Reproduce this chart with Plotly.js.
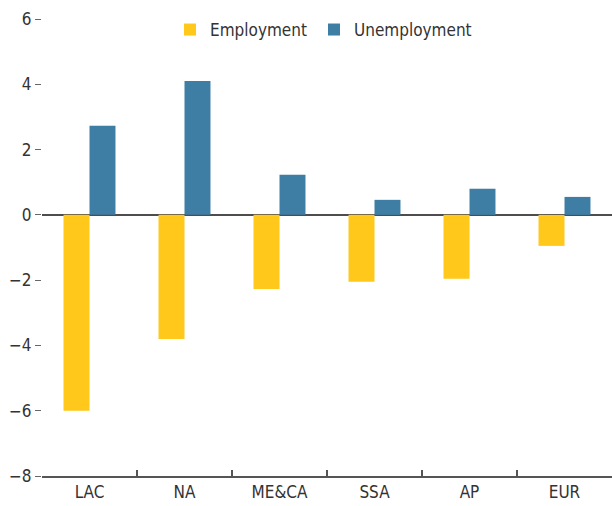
<!DOCTYPE html>
<html>
<head>
<meta charset="utf-8">
<script src="https://cdn.plot.ly/plotly-3.0.1.min.js"></script>
<style>html,body{margin:0;padding:0;background:#fff;}#chart{width:612px;height:506px;}</style>
</head>
<body>
<div id="chart"></div>
<script>
const categories = ["LAC", "NA", "ME&CA", "SSA", "AP", "EUR"];
const employment = [-6.0, -3.8, -2.27, -2.05, -1.96, -0.95];
const unemployment = [2.73, 4.1, 1.23, 0.46, 0.8, 0.55];
const yTickVals = [-8, -6, -4, -2, 0, 2, 4, 6];

const FONT = '"DejaVu Sans Condensed", "Liberation Sans", sans-serif';

const traces = [
  {type: 'bar', name: 'Employment', x: categories, y: employment,
   marker: {color: '#FFC81A'}, legend: 'legend'},
  {type: 'bar', name: 'Unemployment', x: categories, y: unemployment,
   marker: {color: '#3E7EA5'}, legend: 'legend2'}
];

const legendBase = {orientation: 'h', xanchor: 'left', y: 0.976, yanchor: 'middle',
  font: {family: FONT, size: 17, color: '#333'}, bgcolor: 'rgba(0,0,0,0)'};

const layout = {
  width: 612, height: 506,
  margin: {l: 42, r: 0, t: 19, b: 30},
  paper_bgcolor: '#fff', plot_bgcolor: '#fff',
  font: {family: FONT, size: 17, color: '#333'},
  barmode: 'group', bargap: 0.453, bargroupgap: 0,
  showlegend: true,
  legend: Object.assign({}, legendBase, {x: (189 - 19 - 42) / 570}),
  legend2: Object.assign({}, legendBase, {x: (333 - 19 - 42) / 570}),
  xaxis: {
    type: 'category', showgrid: false, zeroline: false,
    showline: true, linecolor: '#555', linewidth: 1.5,
    ticks: 'inside', tickson: 'boundaries', ticklen: 6, tickcolor: '#555', tickwidth: 1.5,
    tickfont: {family: FONT, size: 17, color: '#333'}
  },
  yaxis: {
    range: [-8, 6], tickvals: yTickVals, showgrid: false,
    zeroline: true, zerolinecolor: '#4d4d4d', zerolinewidth: 1.5,
    showline: false, ticks: 'outside', ticklen: 6, tickcolor: '#666', tickwidth: 1,
    tickfont: {family: FONT, size: 17, color: '#333'}
  }
};

Plotly.newPlot('chart', traces, layout, {displayModeBar: false, staticPlot: true});
</script>
</body>
</html>
